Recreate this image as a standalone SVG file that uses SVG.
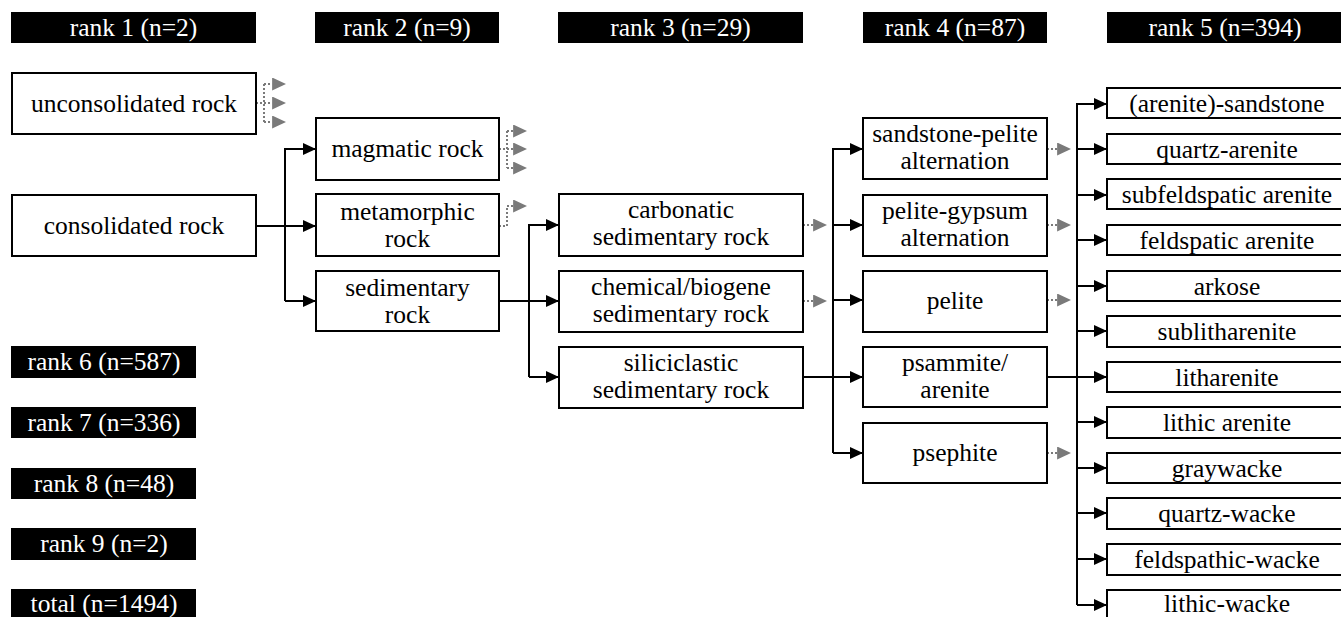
<svg xmlns="http://www.w3.org/2000/svg" width="1341" height="617" viewBox="0 0 1341 617" font-family="'Liberation Serif', Tinos, 'Times New Roman', 'DejaVu Serif', serif">
<style>
.hdr{fill:#000}
.ht{fill:#fff;font-family:'Liberation Serif',Tinos,'Times New Roman','DejaVu Serif',serif;font-size:25.5px;text-anchor:middle}
.box{fill:#fff;stroke:#000;stroke-width:2}
.t{fill:#000;font-family:'Liberation Serif',Tinos,'Times New Roman','DejaVu Serif',serif;font-size:25.5px;text-anchor:middle}
.c{fill:none;stroke:#000;stroke-width:2}
.g{fill:none;stroke:#7a7a7a;stroke-width:2;stroke-dasharray:2,2}
</style>
<defs>
<marker id="ab" markerUnits="userSpaceOnUse" markerWidth="13" markerHeight="12" refX="13" refY="6" orient="auto"><path d="M0,0 L13,6 L0,12 z" fill="#000"/></marker>
<marker id="ag" markerUnits="userSpaceOnUse" markerWidth="14" markerHeight="13" refX="0" refY="6.5" orient="auto"><path d="M0,0 L14,6.5 L0,13 z" fill="#7a7a7a"/></marker>
</defs>
<rect width="1341" height="617" fill="#fff"/>
<g id="headers">
<rect class="hdr" x="11" y="12" width="245" height="31"/><text class="ht" x="133.5" y="36">rank 1 (n=2)</text>
<rect class="hdr" x="315" y="12" width="184" height="31"/><text class="ht" x="407" y="36">rank 2 (n=9)</text>
<rect class="hdr" x="558" y="12" width="245" height="31"/><text class="ht" x="680.5" y="36">rank 3 (n=29)</text>
<rect class="hdr" x="863" y="12" width="184" height="31"/><text class="ht" x="955" y="36">rank 4 (n=87)</text>
<rect class="hdr" x="1107" y="12" width="240" height="31"/><text class="ht" x="1225" y="36">rank 5 (n=394)</text>
<rect class="hdr" x="11" y="346" width="185" height="32"/><text class="ht" x="104" y="370">rank 6 (n=587)</text>
<rect class="hdr" x="11" y="407" width="185" height="31"/><text class="ht" x="104" y="431">rank 7 (n=336)</text>
<rect class="hdr" x="11" y="468" width="185" height="31"/><text class="ht" x="104" y="492">rank 8 (n=48)</text>
<rect class="hdr" x="11" y="528" width="185" height="32"/><text class="ht" x="104" y="552">rank 9 (n=2)</text>
<rect class="hdr" x="11" y="589" width="185" height="31"/><text class="ht" x="104" y="612">total (n=1494)</text>
</g>
<g id="connectors">
<path class="c" d="M256,226 H316" marker-end="url(#ab)"/>
<path class="c" d="M285,301 V149 H316" marker-end="url(#ab)"/>
<path class="c" d="M285,301 H316" marker-end="url(#ab)"/>
<path class="c" d="M499,301 H559" marker-end="url(#ab)"/>
<path class="c" d="M529,377 V225 H559" marker-end="url(#ab)"/>
<path class="c" d="M529,377 H559" marker-end="url(#ab)"/>
<path class="c" d="M803,377 H863" marker-end="url(#ab)"/>
<path class="c" d="M833,453 V149 H863" marker-end="url(#ab)"/>
<path class="c" d="M833,225 H863" marker-end="url(#ab)"/>
<path class="c" d="M833,300 H863" marker-end="url(#ab)"/>
<path class="c" d="M833,453 H863" marker-end="url(#ab)"/>
<path class="c" d="M1047,377 H1107" marker-end="url(#ab)"/>
<path class="c" d="M1077,605 V104 H1107" marker-end="url(#ab)"/>
<path class="c" d="M1077,149 H1107" marker-end="url(#ab)"/>
<path class="c" d="M1077,195 H1107" marker-end="url(#ab)"/>
<path class="c" d="M1077,240 H1107" marker-end="url(#ab)"/>
<path class="c" d="M1077,286 H1107" marker-end="url(#ab)"/>
<path class="c" d="M1077,331 H1107" marker-end="url(#ab)"/>
<path class="c" d="M1077,422 H1107" marker-end="url(#ab)"/>
<path class="c" d="M1077,468 H1107" marker-end="url(#ab)"/>
<path class="c" d="M1077,513 H1107" marker-end="url(#ab)"/>
<path class="c" d="M1077,559 H1107" marker-end="url(#ab)"/>
<path class="c" d="M1077,605 H1107" marker-end="url(#ab)"/>
<path class="g" d="M256,103 H264 M264,84 V122 M264,84 H272 M264,122 H272 M264,103 H272"/>
<path class="g" d="M272,84 h0.1" marker-end="url(#ag)"/>
<path class="g" d="M272,103 h0.1" marker-end="url(#ag)"/>
<path class="g" d="M272,122 h0.1" marker-end="url(#ag)"/>
<path class="g" d="M499,149 H507 M507,131 V168 M507,131 H513 M507,168 H513 M507,149 H513"/>
<path class="g" d="M513,131 h0.1" marker-end="url(#ag)"/>
<path class="g" d="M513,149 h0.1" marker-end="url(#ag)"/>
<path class="g" d="M513,168 h0.1" marker-end="url(#ag)"/>
<path class="g" d="M499,226 H507 V206 H513"/>
<path class="g" d="M513,206 h0.1" marker-end="url(#ag)"/>
<path class="g" d="M803,225 H813"/><path class="g" d="M813,225 h0.1" marker-end="url(#ag)"/>
<path class="g" d="M803,301 H813"/><path class="g" d="M813,301 h0.1" marker-end="url(#ag)"/>
<path class="g" d="M1047,149 H1057"/><path class="g" d="M1057,149 h0.1" marker-end="url(#ag)"/>
<path class="g" d="M1047,225 H1057"/><path class="g" d="M1057,225 h0.1" marker-end="url(#ag)"/>
<path class="g" d="M1047,300 H1057"/><path class="g" d="M1057,300 h0.1" marker-end="url(#ag)"/>
<path class="g" d="M1047,453 H1057"/><path class="g" d="M1057,453 h0.1" marker-end="url(#ag)"/>
</g>
<g id="n-unconsolidated"><rect class="box" x="12" y="73" width="244" height="61"/><text class="t" x="134" y="112">unconsolidated rock</text></g>
<g id="n-consolidated"><rect class="box" x="12" y="195" width="244" height="61"/><text class="t" x="134" y="234">consolidated rock</text></g>
<g id="n-magmatic"><rect class="box" x="316" y="118" width="183" height="62"/><text class="t" x="407.5" y="157">magmatic rock</text></g>
<g id="n-metamorphic"><rect class="box" x="316" y="194" width="183" height="62"/><text class="t" x="407.5" y="220">metamorphic</text><text class="t" x="407.5" y="247">rock</text></g>
<g id="n-sedimentary"><rect class="box" x="316" y="271" width="183" height="60"/><text class="t" x="407.5" y="296">sedimentary</text><text class="t" x="407.5" y="323">rock</text></g>
<g id="n-carbonatic"><rect class="box" x="559" y="194" width="244" height="62"/><text class="t" x="681" y="218">carbonatic</text><text class="t" x="681" y="245">sedimentary rock</text></g>
<g id="n-chemical"><rect class="box" x="559" y="271" width="244" height="61"/><text class="t" x="681" y="295">chemical/biogene</text><text class="t" x="681" y="322">sedimentary rock</text></g>
<g id="n-siliciclastic"><rect class="box" x="559" y="347" width="244" height="61"/><text class="t" x="681" y="371">siliciclastic</text><text class="t" x="681" y="398">sedimentary rock</text></g>
<g id="n-sandstone-pelite"><rect class="box" x="863" y="118" width="184" height="61"/><text class="t" x="955" y="142">sandstone-pelite</text><text class="t" x="955" y="169">alternation</text></g>
<g id="n-pelite-gypsum"><rect class="box" x="863" y="195" width="184" height="61"/><text class="t" x="955" y="219">pelite-gypsum</text><text class="t" x="955" y="246">alternation</text></g>
<g id="n-pelite"><rect class="box" x="863" y="271" width="184" height="61"/><text class="t" x="955" y="309">pelite</text></g>
<g id="n-psammite"><rect class="box" x="863" y="347" width="184" height="60"/><text class="t" x="955" y="371">psammite/</text><text class="t" x="955" y="398">arenite</text></g>
<g id="n-psephite"><rect class="box" x="863" y="423" width="184" height="60"/><text class="t" x="955" y="461">psephite</text></g>
<g id="n-r5-1"><rect class="box" x="1107" y="88" width="240" height="30"/><text class="t" x="1227" y="112">(arenite)-sandstone</text></g>
<g id="n-r5-2"><rect class="box" x="1107" y="134" width="240" height="30"/><text class="t" x="1227" y="158">quartz-arenite</text></g>
<g id="n-r5-3"><rect class="box" x="1107" y="179" width="240" height="30"/><text class="t" x="1227" y="203">subfeldspatic arenite</text></g>
<g id="n-r5-4"><rect class="box" x="1107" y="225" width="240" height="30"/><text class="t" x="1227" y="249">feldspatic arenite</text></g>
<g id="n-r5-5"><rect class="box" x="1107" y="271" width="240" height="30"/><text class="t" x="1227" y="295">arkose</text></g>
<g id="n-r5-6"><rect class="box" x="1107" y="316" width="240" height="31"/><text class="t" x="1227" y="340">sublitharenite</text></g>
<g id="n-r5-7"><rect class="box" x="1107" y="362" width="240" height="30"/><text class="t" x="1227" y="386">litharenite</text></g>
<g id="n-r5-8"><rect class="box" x="1107" y="407" width="240" height="31"/><text class="t" x="1227" y="431">lithic arenite</text></g>
<g id="n-r5-9"><rect class="box" x="1107" y="453" width="240" height="30"/><text class="t" x="1227" y="477">graywacke</text></g>
<g id="n-r5-10"><rect class="box" x="1107" y="498" width="240" height="31"/><text class="t" x="1227" y="522">quartz-wacke</text></g>
<g id="n-r5-11"><rect class="box" x="1107" y="544" width="240" height="31"/><text class="t" x="1227" y="568">feldspathic-wacke</text></g>
<g id="n-r5-12"><rect class="box" x="1107" y="590" width="240" height="31"/><text class="t" x="1227" y="612">lithic-wacke</text></g>
</svg>
